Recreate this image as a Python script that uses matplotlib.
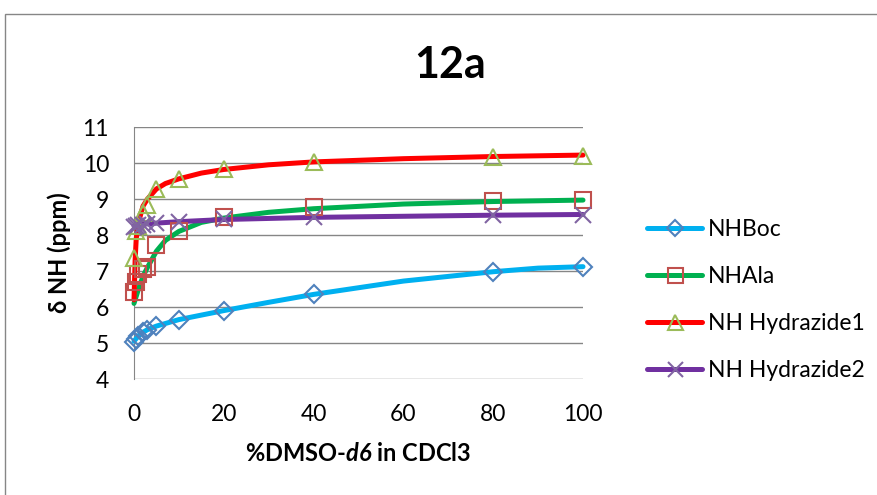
import matplotlib
matplotlib.use("Agg")
import matplotlib.pyplot as plt
from matplotlib.lines import Line2D
from matplotlib.patches import Rectangle

plt.rcParams['font.family'] = ['Lato', 'DejaVu Sans']
plt.rcParams['mathtext.fontset'] = 'custom'
plt.rcParams['mathtext.bfit'] = 'Lato:bold:italic'
plt.rcParams['mathtext.rm'] = 'Lato:bold'

# measured points (% DMSO-d6 in CDCl3)
pct = [0, 0.5, 1, 2, 3, 5, 10, 20, 40, 80, 100]
boc = [5.02, 5.12, 5.2, 5.3, 5.36, 5.48, 5.65, 5.9, 6.35, 6.98, 7.12]
ala = [6.42, 6.7, 6.92, 7.05, 7.1, 7.72, 8.1, 8.5, 8.78, 8.95, 8.97]
hyd1 = [7.35, 8.1, 8.25, 8.6, 8.82, 9.27, 9.55, 9.82, 10.03, 10.18, 10.2]
hyd2 = [8.22, 8.25, 8.27, 8.28, 8.3, 8.32, 8.36, 8.45, 8.5, 8.55, 8.56]

# fitted curves
boc_fx = [0, 1, 2, 3, 5, 10, 20, 30, 40, 60, 80, 90, 100]
boc_fy = [5.05, 5.2, 5.3, 5.37, 5.47, 5.65, 5.9, 6.13, 6.35, 6.72, 6.98, 7.08, 7.12]
ala_fx = [0, 0.5, 1, 2, 3, 5, 7, 10, 15, 20, 30, 40, 60, 80, 100]
ala_fy = [6.1, 6.3, 6.5, 6.85, 7.1, 7.55, 7.85, 8.1, 8.35, 8.47, 8.63, 8.73, 8.86, 8.93, 8.97]
hyd1_fx = [0, 0.25, 0.5, 1, 2, 3, 5, 7, 10, 15, 20, 30, 40, 60, 80, 100]
hyd1_fy = [6.2, 7.3, 7.9, 8.35, 8.8, 9.0, 9.28, 9.43, 9.56, 9.72, 9.82, 9.95, 10.03, 10.12, 10.18, 10.22]
hyd2_fx = [0, 2, 5, 10, 20, 40, 60, 80, 100]
hyd2_fy = [8.25, 8.3, 8.33, 8.37, 8.43, 8.49, 8.52, 8.55, 8.57]

labels = ["NHBoc", "NHAla", "NH Hydrazide1", "NH Hydrazide2"]
line_colors = ["#00B0F0", "#00B050", "#FF0000", "#7030A0"]
mark_colors = ["#4F81BD", "#C0504D", "#9BBB59", "#8064A2"]
markers = ["D", "s", "^", "x"]
msizes = [9, 12, 12, 12]

fig = plt.figure(figsize=(8.77, 4.95), dpi=100)
fig.patches.append(Rectangle((5 / 877, -0.1), 1.2, 1.1 - 14 / 495, transform=fig.transFigure,
                             fill=False, edgecolor="#868686", lw=1.0))
ax = fig.add_axes([134 / 877, 1 - 379 / 495, 449 / 877, 252 / 495])

fits = [(boc_fx, boc_fy), (ala_fx, ala_fy), (hyd1_fx, hyd1_fy), (hyd2_fx, hyd2_fy)]
pts = [boc, ala, hyd1, hyd2]
for (fx, fy), c in zip(fits, line_colors):
    ax.plot(fx, fy, color=c, lw=3.6, solid_capstyle="round", solid_joinstyle="round",
            zorder=3, clip_on=False)
for y, c, m, s in zip(pts, mark_colors, markers, msizes):
    ax.plot(pct, y, ls="none", marker=m, ms=s, mfc="none", mec=c, mew=1.5, zorder=4, clip_on=False)

ax.set_xlim(0, 100)
ax.set_ylim(4, 11)
ax.set_xticks(range(0, 101, 20))
ax.set_yticks(range(4, 12))
ax.yaxis.grid(True, color="#868686", lw=1.0)
ax.set_axisbelow(True)
for s in ["top", "right", "bottom"]:
    ax.spines[s].set_visible(False)
ax.spines["left"].set_color("#868686")
ax.tick_params(length=0, labelsize=16.5)
ax.tick_params(axis="y", pad=18)
ax.tick_params(axis="x", pad=18)

ax.set_xlabel("%DMSO-$\\mathbfit{d6}$ in CDCl3", fontsize=17, fontweight="bold", labelpad=12)
ax.set_ylabel("δ NH (ppm)", fontsize=17, fontweight="bold", labelpad=8)
fig.text(450 / 877, 1 - 65 / 495, "12a", fontsize=31, fontweight="bold", ha="center", va="center")

handles = [Line2D([], [], color=lc, lw=3.6, marker=m, ms=s * 0.9, mfc="none", mec=mc, mew=1.5,
                  solid_capstyle="round")
           for lc, mc, m, s in zip(line_colors, mark_colors, markers, msizes)]
fig.legend(handles, labels, loc="upper left", bbox_to_anchor=(636 / 877, 1 - 208 / 495),
           frameon=False, fontsize=16.5, handlelength=2.4, handletextpad=0.22, labelspacing=1.13,
           borderpad=0)

fig.savefig("out.png", dpi=100)
